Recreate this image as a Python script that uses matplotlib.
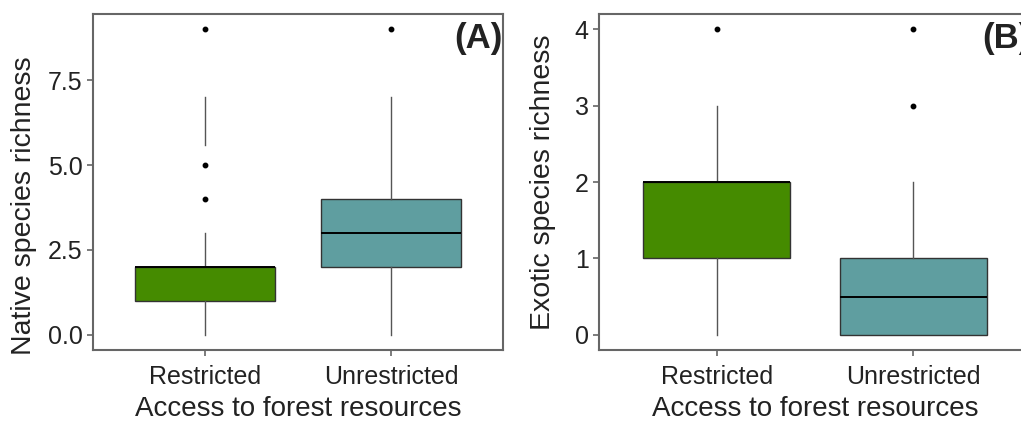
import matplotlib
matplotlib.use("Agg")
import matplotlib.pyplot as plt

plt.rcParams['font.family'] = ['Liberation Sans', 'DejaVu Sans']

groups = ["Restricted", "Unrestricted"]
box_colors = ["#458B00", "#5F9EA0"]

# panel A: native species richness
native_q1 = [1, 2]
native_med = [2, 3]
native_q3 = [2, 4]
native_whislo = [0, 0]
native_whishi = [3, 7]
native_fliers = [[4, 5, 9], [9]]
native_extra_seg = (5.6, 7.0)   # stray whisker piece above Restricted box
native_ticks = [0.0, 2.5, 5.0, 7.5]

# panel B: exotic species richness
exotic_q1 = [1, 0]
exotic_med = [2, 0.5]
exotic_q3 = [2, 1]
exotic_whislo = [0, 0]
exotic_whishi = [3, 2]
exotic_fliers = [[4], [3, 4]]
exotic_ticks = [0, 1, 2, 3, 4]

frame_col = "#666666"


def make_stats(q1, med, q3, lo, hi, fl):
    out = []
    for i in range(len(q1)):
        out.append(dict(q1=q1[i], med=med[i], q3=q3[i], whislo=lo[i], whishi=hi[i], fliers=fl[i]))
    return out


def draw_panel(ax, stats, ticks, ticklabels, ylim, ylabel, tag):
    bp = ax.bxp(stats, positions=[1, 2], widths=0.75, patch_artist=True, showcaps=False,
                boxprops=dict(edgecolor="#333333", linewidth=1.0),
                medianprops=dict(color="black", linewidth=1.4),
                whiskerprops=dict(color="#555555", linewidth=1.0),
                flierprops=dict(marker="o", markerfacecolor="black", markeredgecolor="black",
                                markersize=3.2, linestyle="none"))
    for patch, c in zip(bp["boxes"], box_colors):
        patch.set_facecolor(c)
    ax.set_xlim(0.4, 2.6)
    ax.set_ylim(*ylim)
    ax.set_xticks([1, 2])
    ax.set_xticklabels(groups)
    ax.set_yticks(ticks)
    ax.set_yticklabels(ticklabels)
    ax.tick_params(axis="both", labelsize=18, colors=frame_col, labelcolor="#222222",
                   length=4.5, width=1.2)
    ax.tick_params(axis="x", pad=6)
    ax.tick_params(axis="y", pad=3)
    for s in ax.spines.values():
        s.set_color(frame_col)
        s.set_linewidth(1.5)
    ax.set_xlabel("Access to forest resources", fontsize=20, color="#222222", labelpad=5)
    ax.set_ylabel(ylabel, fontsize=20.5, color="#222222")
    ax.text(0.998, 0.975, tag, transform=ax.transAxes, ha="right", va="top",
            fontsize=25, fontweight="bold", color="#222222")


fig = plt.figure(figsize=(10.21, 4.21), dpi=100)
axA = fig.add_axes([0.0911, 0.1686, 0.4016, 0.798])
axB = fig.add_axes([0.5867, 0.1686, 0.4231, 0.798])

draw_panel(axA, make_stats(native_q1, native_med, native_q3, native_whislo, native_whishi, native_fliers),
           native_ticks, ["0.0", "2.5", "5.0", "7.5"], (-0.45, 9.45), "Native species richness", "(A)")
axA.plot([1, 1], native_extra_seg, color="#555555", linewidth=1.0, zorder=1)
axA.yaxis.set_label_coords(-0.136, 0.43)

draw_panel(axB, make_stats(exotic_q1, exotic_med, exotic_q3, exotic_whislo, exotic_whishi, exotic_fliers),
           exotic_ticks, [str(t) for t in exotic_ticks], (-0.2, 4.2), "Exotic species richness", "(B)")
axB.yaxis.set_label_coords(-0.10, 0.5)

fig.savefig("out.png", dpi=100)
